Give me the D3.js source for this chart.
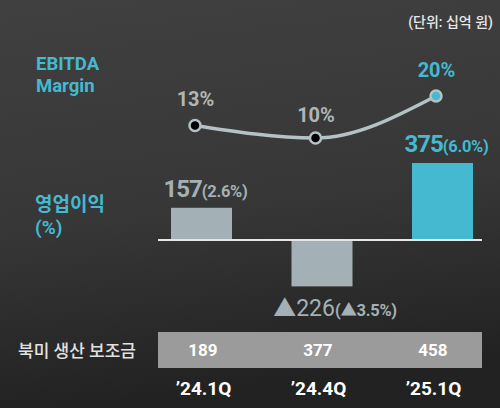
<!DOCTYPE html>
<html><head><meta charset="utf-8">
<script src="https://cdn.jsdelivr.net/npm/d3@7"></script>
<style>html,body{margin:0;padding:0;background:#2c2c2c;}svg{display:block;}</style>
</head><body><div id="chart"></div>
<script>
const categories = ["’24.1Q", "’24.4Q", "’25.1Q"];
const ebitdaMargin = [13, 10, 20];
const ebitdaLabels = ["13%", "10%", "20%"];
const opProfit = [157, -226, 375];
const opMargin = ["2.6%", "▲3.5%", "6.0%"];
const opLabels = ["157", "▲226", "375"];
const subsidy = [189, 377, 458];

const W = 500, H = 408;
const GREY = "#a3b1b6", CYAN = "#45b9d0", LINE = "#b4c1c5";
const svg = d3.select("#chart").append("svg").attr("width", W).attr("height", H);
const defs = svg.append("defs");
const g = defs.append("linearGradient").attr("id","bg").attr("x1",0).attr("y1",0).attr("x2",0.15).attr("y2",1);
g.append("stop").attr("offset","0%").attr("stop-color","#404040");
g.append("stop").attr("offset","55%").attr("stop-color","#373737");
g.append("stop").attr("offset","100%").attr("stop-color","#222222");
svg.append("rect").attr("width",W).attr("height",H).attr("fill","url(#bg)");

const FONT = "Roboto, 'Noto Sans CJK KR', sans-serif";

// scales
const xBar = d3.scalePoint().domain(categories).range([201.5, 442.5]);
const xLine = d3.scalePoint().domain(categories).range([195, 436]);
const xTab = d3.scalePoint().domain(categories).range([203, 433]);
const yBar = d3.scaleLinear().domain([0, 375]).range([240, 163]);
const yLine = d3.scaleLinear().domain([10, 20]).range([138, 96]);
const barW = 61;

// unit label
svg.append("text").attr("x",493).attr("y",27).attr("text-anchor","end")
  .attr("font-family",FONT).attr("font-size",14).attr("font-weight",500).attr("fill","#e8e8e8").text("(단위: 십억 원)");

// left titles
const lt = svg.append("g").attr("font-family",FONT).attr("font-weight",700).attr("fill",CYAN);
lt.append("text").attr("x",36).attr("y",70).attr("font-size",18.5).text("EBITDA");
lt.append("text").attr("x",36).attr("y",92).attr("font-size",18.5).text("Margin");
lt.append("text").attr("x",35).attr("y",211).attr("font-size",19).text("영업이익");
lt.append("text").attr("x",35).attr("y",234).attr("font-size",19).text("(%)");

// bars
svg.selectAll("rect.bar").data(opProfit).join("rect").attr("class","bar")
  .attr("x",(d,i)=>xBar(categories[i]) - barW/2)
  .attr("y",d=>Math.min(yBar(d), yBar(0)))
  .attr("width",barW)
  .attr("height",d=>Math.abs(yBar(d)-yBar(0)))
  .attr("fill",(d,i)=>i===2?CYAN:GREY);

// baseline
svg.append("line").attr("x1",158).attr("x2",482).attr("y1",yBar(0)).attr("y2",yBar(0))
  .attr("stroke","#e6e6e6").attr("stroke-width",2);

// bar labels
opProfit.forEach((d,i)=>{
  const neg = d < 0;
  const t = svg.append("text").attr("font-family",FONT).attr("text-anchor","middle")
    .attr("x", xBar(categories[i]) + (neg ? 13 : 4))
    .attr("y", neg ? yBar(d) + 30 : yBar(d) - 11)
    .attr("fill", i===2?CYAN:GREY);
  t.append("tspan").attr("font-size",neg?23:24).attr("font-weight",neg?400:700)
    .attr("letter-spacing",neg?0:-1).text(opLabels[i]);
  t.append("tspan").attr("font-size",16.5).attr("font-weight",700).attr("letter-spacing",-0.3).text("(" + opMargin[i] + ")");
});

// line
const line = d3.line().x((d,i)=>xLine(categories[i])).y(d=>yLine(d)).curve(d3.curveMonotoneX);
svg.append("path").datum(ebitdaMargin).attr("d",line).attr("fill","none")
  .attr("stroke",LINE).attr("stroke-width",3.5);
svg.selectAll("circle.pt").data(ebitdaMargin).join("circle").attr("class","pt")
  .attr("cx",(d,i)=>xLine(categories[i])).attr("cy",d=>yLine(d)).attr("r",5.5)
  .attr("fill",(d,i)=>i===2?CYAN:"#000").attr("stroke",LINE).attr("stroke-width",2.5);
svg.selectAll("text.pl").data(ebitdaMargin).join("text").attr("class","pl")
  .attr("x",(d,i)=>xLine(categories[i]) + 0.5).attr("y",(d,i)=>yLine(d) - (i===1?16:19))
  .attr("text-anchor","middle").attr("font-family",FONT).attr("font-size",20).attr("font-weight",700)
  .attr("fill",(d,i)=>i===2?CYAN:"#b0b6b8").text((d,i)=>ebitdaLabels[i]);

// subsidy band
svg.append("rect").attr("x",158).attr("y",332).attr("width",324).attr("height",36).attr("fill","#9b9b9b");
svg.append("text").attr("x",18).attr("y",357).attr("font-family",FONT).attr("font-size",17).attr("font-weight",500)
  .attr("fill","#e2e2e2").text("북미 생산 보조금");
svg.selectAll("text.sub").data(subsidy).join("text").attr("class","sub")
  .attr("x",(d,i)=>xTab(categories[i])).attr("y",356).attr("text-anchor","middle")
  .attr("font-family",FONT).attr("font-size",17).attr("font-weight",700).attr("fill","#ffffff").text(d=>d);

// category axis
const axis = d3.axisBottom(xTab).tickSize(0).tickPadding(0);
const ax = svg.append("g").attr("transform","translate(0,381)").call(axis);
ax.select(".domain").remove();
ax.selectAll("text").attr("font-family",FONT).attr("font-size",19).attr("font-weight",700).attr("fill","#ffffff").attr("dy","0.71em");
</script></body></html>
